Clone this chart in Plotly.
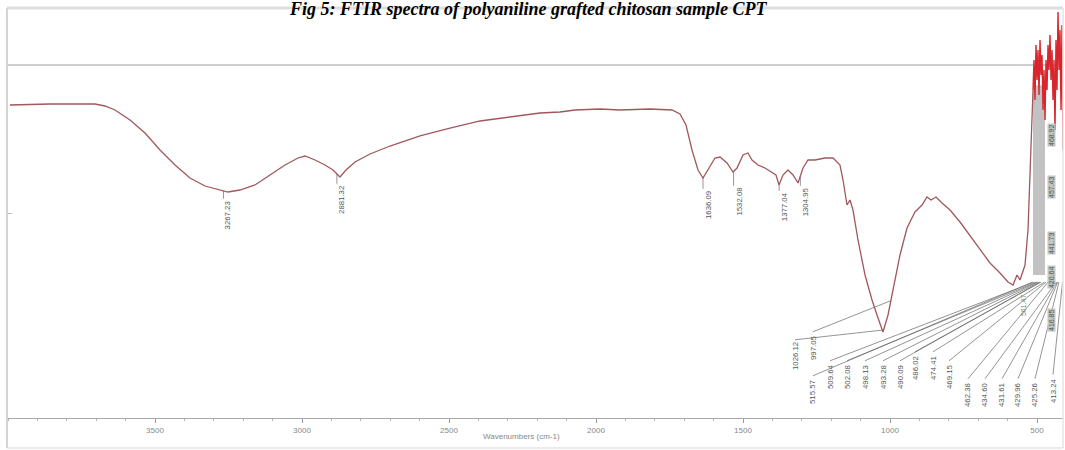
import numpy as np
import plotly.graph_objects as go

# ---------------- data ----------------
wavenumber = [3993.2, 3857.2, 3704.1, 3670.1, 3636.1, 3585.1, 3534.0, 3483.0, 3432.0, 3381.0,
              3330.0, 3278.9, 3251.7, 3210.9, 3159.9, 3108.9, 3057.9, 3013.6, 2989.8, 2955.8,
              2921.8, 2894.6, 2870.8, 2850.4, 2819.8, 2768.7, 2700.7, 2598.7, 2496.6, 2394.6,
              2292.5, 2190.5, 2122.5, 2071.4, 1986.4, 1918.4, 1816.3, 1741.5, 1714.3, 1693.9,
              1673.5, 1653.1, 1636.1, 1619.1, 1595.3, 1578.2, 1554.4, 1534.0, 1520.4, 1500.0,
              1483.0, 1469.4, 1449.0, 1425.2, 1401.4, 1387.8, 1377.6, 1364.0, 1347.0, 1329.9,
              1312.9, 1295.9, 1278.9, 1255.1, 1221.1, 1193.9, 1170.1, 1159.9, 1146.3, 1136.1,
              1125.9, 1108.9, 1085.0, 1061.2, 1040.8, 1023.8, 1006.8, 989.8, 966.0, 942.2,
              915.0, 891.2, 874.2, 860.5, 843.5, 823.1, 795.9, 761.9, 727.9, 693.9,
              659.9, 625.9, 598.6, 581.6, 568.0, 557.8, 540.8, 530.6, 520.4, 513.6]
transmittance = [88.67, 88.95, 88.95, 88.39, 87.25, 84.42, 80.74, 75.92, 71.67, 67.99,
                 65.72, 64.59, 64.02, 64.59, 66.01, 68.84, 71.67, 73.66, 74.22, 73.09,
                 71.67, 70.26, 68.27, 70.26, 72.52, 74.79, 77.05, 79.89, 82.15, 84.14,
                 85.27, 86.40, 86.69, 87.25, 87.54, 87.25, 87.54, 87.25, 86.12, 83.00,
                 75.92, 70.26, 67.99, 70.26, 73.66, 73.94, 72.24, 69.69, 70.82, 74.51,
                 75.07, 73.09, 71.67, 70.82, 69.69, 68.84, 66.01, 68.84, 70.26, 68.84,
                 66.57, 70.82, 73.09, 73.09, 73.66, 73.66, 71.67, 67.42, 60.34, 61.76,
                 58.92, 50.43, 40.51, 33.43, 28.33, 24.36, 29.18, 36.26, 46.18, 53.83,
                 58.36, 60.34, 62.61, 61.76, 62.61, 60.91, 58.92, 55.52, 51.56, 47.59,
                 43.91, 41.08, 38.53, 37.68, 40.51, 39.09, 43.34, 53.26, 75.92, 92.92]

# noisy far-IR end of the spectrum (drawn in red)
noise_wn = [513.6, 510.2, 506.8, 503.4, 500.0, 496.6, 493.2, 489.8, 486.4, 483.0,
            479.6, 476.2, 472.8, 469.4, 466.0, 462.6, 459.2, 455.8, 452.4, 449.0,
            445.6, 442.2, 438.8, 435.4, 432.0, 428.6, 425.2, 421.8, 418.4, 415.0, 411.6]
noise_T = [92.92, 101.42, 90.09, 105.67, 95.75, 104.25, 91.50, 107.08, 97.17, 102.83,
           87.25, 98.58, 84.42, 101.42, 92.92, 105.67, 98.58, 108.50, 95.75, 104.25,
           90.09, 101.42, 81.59, 107.08, 92.92, 115.02, 98.58, 109.92, 87.25, 111.33, 75.92]

# peak labels above the x axis (label under each band)
top_peaks = [3267.23, 2881.32, 1636.09, 1532.08, 1377.04, 1304.95]
top_labels = ["3267.23", "2881.32", "1636.09", "1532.08", "1377.04", "1304.95"]

# crowded peak labels at the bottom right
bottom_peaks = [1026.12, 997.05, 515.57, 509.64, 502.08, 498.13, 493.28, 490.09, 486.02,
                474.41, 469.15, 462.38, 434.60, 431.61, 429.96, 425.26, 413.24]
bottom_labels = ["1026.12", "997.05", "515.57", "509.64", "502.08", "498.13", "493.28",
                 "490.09", "486.02", "474.41", "469.15", "462.38", "434.60", "431.61",
                 "429.96", "425.26", "413.24"]

# stacked labels in the right-hand column
column_labels = ["468.92", "457.43", "441.73", "420.64", "416.85"]
side_label = "561.47"

x_ticks = [3500, 3000, 2500, 2000, 1500, 1000, 500]
x_tick_text = ["3500", "3000", "2500", "2000", "1500", "1000", "500"]

# ---------------- layout placement (not data) ----------------
X_RANGE = [4000, 411.6]
Y_RANGE = [0, 116.15]
REF_LEVEL = 100           # horizontal reference line
top_label_T = [57.51, 61.76, 60.34, 61.19, 59.77, 61.19]
bottom_label_x = [1323.1, 1261.9, 1261.9, 1204.1, 1146.3, 1085.0, 1023.8, 966.0, 915.0,
                  853.7, 799.3, 734.7, 676.9, 619.0, 564.6, 506.8, 445.6]
bottom_label_T = [17.56, 19.83, 7.37, 11.61, 11.61, 11.61, 11.61, 11.61, 14.16,
                  14.16, 11.61, 6.52, 6.52, 6.52, 6.52, 6.52, 7.65]
LEADER_END_T = 38.5
LABEL_HALF = 4.6
column_x = 452.4
column_T = [80.17, 65.44, 49.57, 39.94, 27.76]
band = dict(x0=513.6, x1=472.8, y0=40.5, y1=94.3)
side_xy = (547.6, 32.0)

CURVE = "#a0585c"
NOISE = "#d8262c"
LABEL_C = "#555555"
FRAME = "#d2d2d2"
LABEL_SIZE = 7.8

wn_arr = np.array(wavenumber)
t_arr = np.array(transmittance)
def curve_T(w):
    return float(np.interp(w, wn_arr[::-1], t_arr[::-1]))

fig = go.Figure()

# leader lines
lx, ly = [], []
for pk, T in zip(top_peaks, top_label_T):
    lx += [pk, pk, None]
    ly += [curve_T(pk), T + LABEL_HALF, None]
for i, pk in enumerate(bottom_peaks):
    end_T = curve_T(pk) if pk > 900 else LEADER_END_T
    lx += [bottom_label_x[i], pk, None]
    ly += [bottom_label_T[i] + LABEL_HALF, end_T, None]
fig.add_trace(go.Scatter(x=lx, y=ly, mode="lines",
                         line=dict(color="#666666", width=0.7), hoverinfo="skip",
                         showlegend=False))

fig.add_trace(go.Scatter(x=wavenumber, y=transmittance, mode="lines",
                         line=dict(color=CURVE, width=1.3), showlegend=False))
fig.add_trace(go.Scatter(x=noise_wn, y=noise_T, mode="lines",
                         line=dict(color=NOISE, width=1.4), showlegend=False))

shapes = [
    dict(type="line", xref="paper", yref="y", x0=0, x1=1, y0=REF_LEVEL, y1=REF_LEVEL,
         line=dict(color="#cfcfcf", width=2), layer="below"),
    dict(type="rect", xref="x", yref="y", **band, fillcolor="#c2c2c2",
         line=dict(width=0), layer="below"),
    # outer frame
    dict(type="line", xref="paper", yref="paper", x0=-0.001, x1=-0.001, y0=1, y1=-0.073,
         line=dict(color=FRAME, width=2)),
    dict(type="line", xref="paper", yref="paper", x0=-0.001, x1=1, y0=1, y1=1,
         line=dict(color="#dedede", width=3)),
    dict(type="line", xref="paper", yref="paper", x0=-0.001, x1=1, y0=-0.073, y1=-0.073,
         line=dict(color="#e4e4e4", width=1.5)),
    dict(type="line", xref="paper", yref="paper", x0=1, x1=1, y0=1, y1=-0.073,
         line=dict(color="#e4e4e4", width=1.5)),
]

ann = []
for pk, txt, T in zip(top_peaks, top_labels, top_label_T):
    ann.append(dict(x=pk, y=T, text=txt, textangle=-90, showarrow=False, xshift=5,
                    font=dict(size=LABEL_SIZE, color=LABEL_C, family="Liberation Sans")))
for x, T, txt in zip(bottom_label_x, bottom_label_T, bottom_labels):
    ann.append(dict(x=x, y=T, text=txt, textangle=-90, showarrow=False,
                    font=dict(size=LABEL_SIZE, color=LABEL_C, family="Liberation Sans")))
for T, txt in zip(column_T, column_labels):
    ann.append(dict(x=column_x, y=T, text=txt, textangle=-90, showarrow=False,
                    bgcolor="#c4c4c4", borderpad=0,
                    font=dict(size=7, color="#3e5a4a", family="Liberation Sans")))
ann.append(dict(x=side_xy[0], y=side_xy[1], text=side_label, textangle=-90, showarrow=False,
                font=dict(size=7, color="#6a8a6a", family="Liberation Sans")))
ann.append(dict(x=0.487, y=-0.061, xref="paper", yref="paper", text="Wavenumbers (cm-1)",
                showarrow=False, font=dict(size=8, color="#888888", family="Liberation Sans")))

fig.update_layout(
    width=1065, height=450,
    margin=dict(l=8, r=2, t=8, b=32),
    paper_bgcolor="white", plot_bgcolor="white",
    title=dict(text="<b><i>Fig 5: FTIR spectra of polyaniline grafted chitosan sample CPT</i></b>",
               x=0.496, xanchor="center", y=1 - 9 / 450, yanchor="middle", yref="container",
               font=dict(family="Liberation Serif", size=18, color="black")),
    xaxis=dict(range=X_RANGE, showgrid=False, zeroline=False, showline=True,
               linecolor="#a8a8a8", linewidth=1, ticks="outside", ticklen=4,
               tickcolor="#999999", tickvals=x_ticks, ticktext=x_tick_text,
               tickfont=dict(size=8, color="#888888", family="Liberation Sans"),
               minor=dict(dtick=100, ticks="outside", ticklen=2, tickcolor="#b5b5b5")),
    yaxis=dict(range=Y_RANGE, showgrid=False, zeroline=False, showline=False,
               showticklabels=False, ticks="inside", ticklen=4, tickcolor="#bbbbbb",
               tickvals=[Y_RANGE[1] / 2]),
    shapes=shapes, annotations=ann, showlegend=False,
)

fig.write_html("out.html", config={"displayModeBar": False},
               post_script="document.body.style.margin='0';document.body.style.overflow='hidden';")
